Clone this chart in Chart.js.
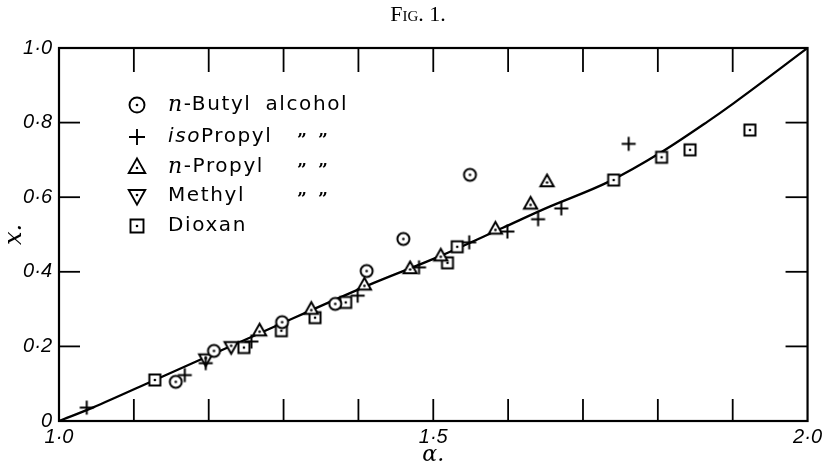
<!DOCTYPE html>
<html><head><meta charset="utf-8">
<script src="https://cdn.jsdelivr.net/npm/chart.js@4.4.0/dist/chart.umd.min.js"></script>
<style>html,body{margin:0;padding:0;background:#fff;}#wrap{width:826px;height:461px;}</style>
</head><body><div id="wrap"><canvas id="c" width="826" height="461"></canvas></div>
<script>
// ---- data ----
const figTitle = 'Fig. 1.';
const xAxisTitle = 'α.';
const yAxisTitle = 'x.';
const seriesNames = ['n-Butyl alcohol', 'isoPropyl', 'n-Propyl', 'Methyl', 'Dioxan'];
const dittoMarks = [false, true, true, true, false];

const butylX  = [1.156, 1.207, 1.298, 1.369, 1.411, 1.460, 1.549];
const butylY  = [0.105, 0.188, 0.265, 0.314, 0.402, 0.488, 0.660];

const isoX    = [1.037, 1.168, 1.196, 1.257, 1.399, 1.481, 1.548, 1.599, 1.640, 1.671, 1.761];
const isoY    = [0.036, 0.123, 0.155, 0.213, 0.336, 0.412, 0.479, 0.508, 0.541, 0.570, 0.743];

const propylX = [1.268, 1.337, 1.408, 1.469, 1.510, 1.583, 1.630, 1.652];
const propylY = [0.242, 0.300, 0.365, 0.409, 0.443, 0.515, 0.582, 0.642];

const methylX = [1.196, 1.230];
const methylY = [0.166, 0.199];

const dioxanX = [1.128, 1.247, 1.297, 1.342, 1.383, 1.519, 1.532, 1.741, 1.805, 1.843, 1.923];
const dioxanY = [0.110, 0.197, 0.242, 0.277, 0.318, 0.424, 0.467, 0.646, 0.707, 0.727, 0.780];

const curveX  = [1.0, 1.045, 1.128, 1.269, 1.412, 1.509, 1.593, 1.650, 1.734, 1.805, 1.866, 1.902, 2.0];
const curveY  = [0.0, 0.036, 0.110, 0.236, 0.363, 0.442, 0.518, 0.570, 0.641, 0.721, 0.802, 0.853, 1.0];

const xLabelValues = [1.0, 1.5, 2.0];
const xTickLabels  = ['1·0', '1·5', '2·0'];
const yLabelValues = [0, 0.2, 0.4, 0.6, 0.8, 1.0];
const yTickLabels  = ['0', '0·2', '0·4', '0·6', '0·8', '1·0'];

// ---- marker drawing ----
const markerKinds = ['circle', 'plus', 'tri', 'tridown', 'square'];
function drawMarker(ctx, kind, cx, cy, s, lw) {
  ctx.save();
  ctx.strokeStyle = '#000'; ctx.fillStyle = '#fff'; ctx.lineWidth = lw;
  ctx.lineJoin = 'miter';
  ctx.beginPath();
  if (kind === 'plus') {
    ctx.moveTo(cx - s, cy); ctx.lineTo(cx + s, cy);
    ctx.moveTo(cx, cy - s); ctx.lineTo(cx, cy + s);
    ctx.stroke(); ctx.restore(); return;
  }
  if (kind === 'circle') ctx.arc(cx, cy, s, 0, Math.PI * 2);
  else if (kind === 'square') ctx.rect(cx - s, cy - s, 2 * s, 2 * s);
  else if (kind === 'tri') { ctx.moveTo(cx, cy - s * 1.15); ctx.lineTo(cx + s * 1.1, cy + s * 0.8); ctx.lineTo(cx - s * 1.1, cy + s * 0.8); ctx.closePath(); }
  else if (kind === 'tridown') { ctx.moveTo(cx, cy + s * 1.15); ctx.lineTo(cx + s * 1.1, cy - s * 0.8); ctx.lineTo(cx - s * 1.1, cy - s * 0.8); ctx.closePath(); }
  ctx.fill(); ctx.stroke();
  ctx.beginPath(); ctx.fillStyle = '#000';
  ctx.arc(cx, cy + (kind === 'tri' ? 1 : kind === 'tridown' ? -1 : 0), 1.3, 0, Math.PI * 2); ctx.fill();
  ctx.restore();
}
function makeMarker(kind, s, lw) {
  const c = document.createElement('canvas');
  const size = Math.ceil(2 * s * 1.2 + lw * 2 + 4);
  c.width = c.height = size;
  drawMarker(c.getContext('2d'), kind, size / 2, size / 2, s, lw);
  return c;
}
const markerSize = {circle: 6, plus: 7, tri: 6, tridown: 6, square: 5.5};

const seriesX = [butylX, isoX, propylX, methylX, dioxanX];
const seriesY = [butylY, isoY, propylY, methylY, dioxanY];

const datasets = seriesNames.map((name, k) => ({
  label: name,
  data: seriesX[k].map((x, i) => ({x: x, y: seriesY[k][i]})),
  pointStyle: makeMarker(markerKinds[k], markerSize[markerKinds[k]], 2),
  pointRadius: 7,
  showLine: false
}));
datasets.push({
  label: 'curve',
  data: curveX.map((x, i) => ({x: x, y: curveY[i]})),
  showLine: true, pointRadius: 0, borderColor: '#000', borderWidth: 2.3,
  cubicInterpolationMode: 'monotone', fill: false
});

function labelFor(v, vals, labels) {
  const i = vals.findIndex(t => Math.abs(t - v) < 1e-6);
  return i >= 0 ? labels[i] : '';
}

// ---- plugins ----
const framePlugin = {
  id: 'frame',
  beforeDraw(chart) {
    const ctx = chart.ctx;
    ctx.save(); ctx.fillStyle = '#fff'; ctx.fillRect(0, 0, chart.width, chart.height);
    ctx.fillStyle = '#000'; ctx.font = 'small-caps 22px "Liberation Serif"';
    ctx.textAlign = 'center'; ctx.textBaseline = 'middle';
    ctx.fillText(figTitle, 418, 15);
    ctx.restore();
  },
  afterDraw(chart) {
    const {ctx, chartArea: a, scales: {x, y}} = chart;
    ctx.save();
    ctx.strokeStyle = '#000';
    ctx.lineWidth = 2.2;
    ctx.strokeRect(a.left, a.top, a.right - a.left, a.bottom - a.top);
    ctx.lineWidth = 1.8;
    const seg = (x1, y1, x2, y2) => { ctx.beginPath(); ctx.moveTo(x1, y1); ctx.lineTo(x2, y2); ctx.stroke(); };
    x.ticks.forEach(t => {
      if (t.value <= x.min + 1e-6 || t.value >= x.max - 1e-6) return;
      const px = x.getPixelForValue(t.value);
      seg(px, a.bottom, px, a.bottom - 22);
      seg(px, a.top, px, a.top + 24);
    });
    y.ticks.forEach(t => {
      if (t.value <= y.min + 1e-6 || t.value >= y.max - 1e-6) return;
      const py = y.getPixelForValue(t.value);
      seg(a.left, py, a.left + 21, py);
      seg(a.right, py, a.right - 22, py);
    });
    // legend
    const rowsY = [105, 137, 167, 196, 226];
    const symX = 137, textX = 168;
    seriesNames.forEach((name, k) => {
      const ry = rowsY[k];
      drawMarker(ctx, markerKinds[k], symX, ry, markerKinds[k] === 'plus' ? 8 : markerKinds[k] === 'square' ? 6.5 : 7.5, 1.9);
      ctx.fillStyle = '#000'; ctx.textBaseline = 'middle'; ctx.textAlign = 'left';
      let cx = textX;
      let segs;
      if (name.startsWith('n-')) segs = [['n', 'italic 22px "DejaVu Serif"'], [name.slice(1), '20px "DejaVu Sans"']];
      else if (name.startsWith('iso')) segs = [['iso', 'italic 20px "DejaVu Sans"'], [name.slice(3), '20px "DejaVu Sans"']];
      else segs = [[name, '20px "DejaVu Sans"']];
      ctx.letterSpacing = '1.6px';
      ctx.wordSpacing = '6px';
      segs.forEach(([txt, f]) => { ctx.font = f; ctx.fillText(txt, cx, ry); cx += ctx.measureText(txt).width; });
      ctx.letterSpacing = '0px';
      ctx.wordSpacing = '0px';
      if (dittoMarks[k]) {
        ctx.font = 'bold 17px "DejaVu Serif"';
        ctx.textAlign = 'center';
        ctx.fillText('”', 302, ry + 4);
        ctx.fillText('”', 323, ry + 4);
      }
    });
    ctx.restore();
  }
};

new Chart(document.getElementById('c'), {
  type: 'scatter',
  data: {datasets: datasets},
  options: {
    responsive: false, animation: false, devicePixelRatio: 1,
    layout: {padding: {top: 48, right: 12, left: 0, bottom: 0}},
    plugins: {legend: {display: false}, tooltip: {enabled: false}, title: {display: false}},
    scales: {
      x: {
        type: 'linear', min: 1, max: 2,
        grid: {display: false, drawTicks: false}, border: {display: false},
        ticks: {stepSize: 0.1, autoSkip: false, maxRotation: 0, padding: 4, color: '#000',
          font: {family: 'Liberation Sans', style: 'italic', size: 20},
          callback: v => labelFor(v, xLabelValues, xTickLabels)},
        title: {display: true, text: xAxisTitle, color: '#000', padding: {top: 0, bottom: -5},
          font: {family: 'DejaVu Serif', style: 'italic', size: 22, lineHeight: 1}},
        afterFit: s => { s.height = 40; }
      },
      y: {
        type: 'linear', min: 0, max: 1,
        grid: {display: false, drawTicks: false}, border: {display: false},
        ticks: {stepSize: 0.2, autoSkip: false, padding: 7, color: '#000',
          font: {family: 'Liberation Sans', style: 'italic', size: 20},
          callback: v => labelFor(v, yLabelValues, yTickLabels)},
        title: {display: true, text: yAxisTitle, color: '#000', padding: {top: 3, bottom: 0},
          font: {family: 'DejaVu Serif', style: 'italic', size: 24, lineHeight: 1}},
        afterFit: s => { s.width = 59; }
      }
    }
  },
  plugins: [framePlugin]
});
</script>
</body></html>
